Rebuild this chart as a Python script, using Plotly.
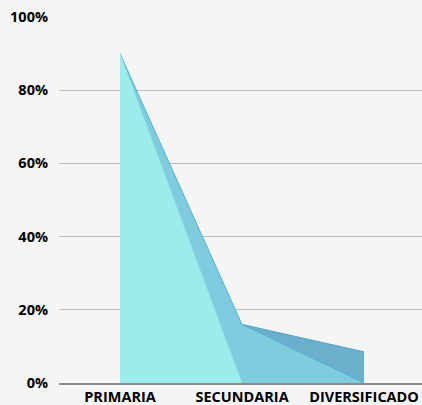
import plotly.graph_objects as go

categories = ["PRIMARIA", "SECUNDARIA", "DIVERSIFICADO"]
series_a = [0.90, 0.0]            # PRIMARIA, SECUNDARIA
series_b = [0.90, 0.16, 0.0]      # all three
series_c = [0.16, 0.085]          # SECUNDARIA, DIVERSIFICADO
y_ticks = [0, 0.2, 0.4, 0.6, 0.8, 1.0]
y_tick_labels = ["0%", "20%", "40%", "60%", "80%", "100%"]

fig = go.Figure()
fig.add_trace(go.Scatter(x=categories[1:], y=series_c, mode="lines", fill="tozeroy",
                         fillcolor="#6AAFCC", line=dict(color="#4E9FC8", width=1),
                         hoverinfo="skip", showlegend=False))
fig.add_trace(go.Scatter(x=categories, y=series_b, mode="lines", fill="tozeroy",
                         fillcolor="#7ECCDD", line=dict(color="#52B4D6", width=1),
                         hoverinfo="skip", showlegend=False))
fig.add_trace(go.Scatter(x=categories[:2], y=series_a, mode="lines", fill="tozeroy",
                         fillcolor="#9DEBEA", line=dict(color="#8FE0E6", width=0.5),
                         hoverinfo="skip", showlegend=False))

tick_font = dict(family="Open Sans", size=14.5, weight="bold", color="#000000")
fig.update_layout(
    width=422, height=405,
    margin=dict(l=59, r=0, t=17, b=22),
    paper_bgcolor="#F5F5F5", plot_bgcolor="#F5F5F5",
    font=dict(family="Open Sans", size=12, color="#000000"),
    xaxis=dict(type="category", categoryorder="array", categoryarray=categories,
               range=[-0.5, 2.475], showgrid=False,
               showline=True, linecolor="#8C8C8C", linewidth=1.5,
               ticks="", ticklabelstandoff=0, tickfont=tick_font),
    yaxis=dict(range=[0, 1.0], tickvals=y_ticks, ticktext=y_tick_labels,
               showgrid=True, gridcolor="#BDBDBD", gridwidth=1, zeroline=False,
               showline=False, ticks="", ticklabelstandoff=10, tickfont=tick_font),
)
fig.write_html("out.html", config={"displayModeBar": False},
               post_script="document.body.style.margin='0';document.body.style.overflow='hidden';")
